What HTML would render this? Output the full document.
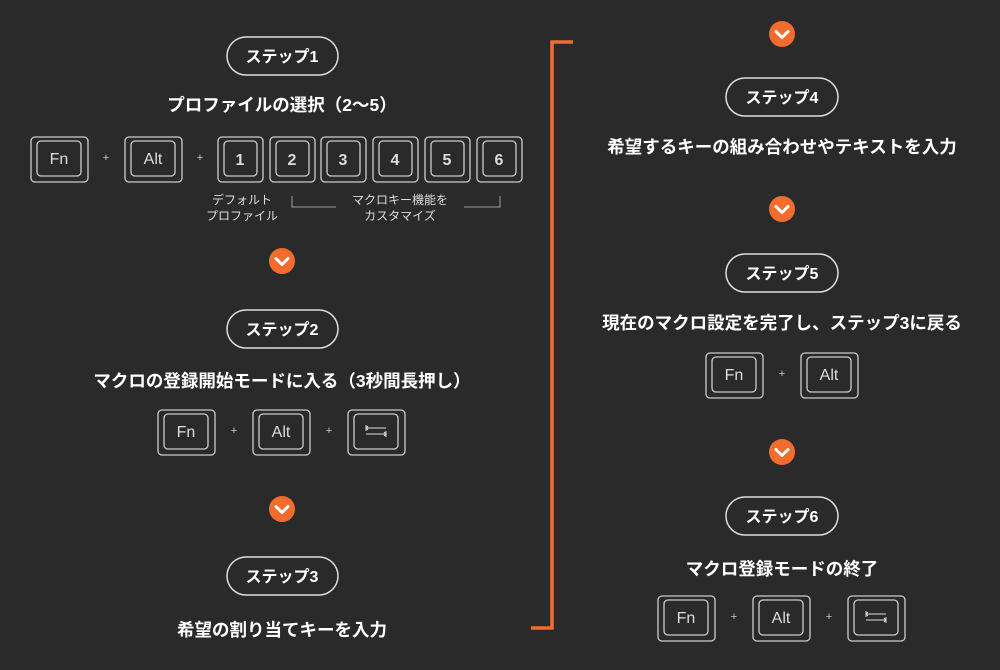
<!DOCTYPE html>
<html><head><meta charset="utf-8"><style>
html,body{margin:0;padding:0;background:#2a2a2a;}
svg{display:block;}
text{font-family:"Liberation Sans","Noto Sans CJK JP",sans-serif;fill:#fff;}
.t{font-size:17.5px;font-weight:bold;text-anchor:middle;}
.p{font-size:16px;font-weight:bold;text-anchor:middle;}
.k{font-size:16px;text-anchor:middle;fill:#ddd;}
.s{font-size:12px;text-anchor:middle;fill:#ddd;}
.pl{font-size:11px;text-anchor:middle;fill:#ccc;}
</style></head><body>
<svg width="1000" height="670" viewBox="0 0 1000 670" xmlns="http://www.w3.org/2000/svg">
<defs>
<g id="chev"><circle r="13" fill="#f26c2e"/><path d="M-6,-2.5 L0,3.5 L6,-2.5" fill="none" stroke="#fff" stroke-width="3" stroke-linecap="round" stroke-linejoin="round"/></g>
<g id="tab"><path d="M-10,-3 H10 M-10,-6 V0 M-10,-3 L-8,-5 M-10,-3 L-8,-1 M-10,3 H10 M10,0 V6 M10,3 L8,1 M10,3 L8,5" stroke="#ddd" stroke-width="1" fill="none"/></g>
</defs>
<rect width="1000" height="670" fill="#2a2a2a"/>
<path d="M573,42 H552 V628 H531" fill="none" stroke="#f26c2e" stroke-width="3.5"/>

<g fill="none" stroke="#ddd" stroke-width="1.5">
<rect x="227" y="37" width="111" height="38" rx="19"/>
<rect x="227" y="310" width="111" height="38" rx="19"/>
<rect x="227" y="557" width="111" height="38" rx="19"/>
<rect x="726" y="78" width="112" height="38" rx="19"/>
<rect x="726" y="254" width="112" height="38" rx="19"/>
<rect x="726" y="497" width="112" height="38" rx="19"/>
</g>
<text class="p" x="282" y="62">ステップ1</text>
<text class="p" x="282" y="335">ステップ2</text>
<text class="p" x="282" y="582">ステップ3</text>
<text class="p" x="782" y="103">ステップ4</text>
<text class="p" x="782" y="279">ステップ5</text>
<text class="p" x="782" y="522">ステップ6</text>

<text class="t" x="282" y="111">プロファイルの選択（2〜5）</text>
<text class="t" x="282" y="387">マクロの登録開始モードに入る（3秒間長押し）</text>
<text class="t" x="282" y="636">希望の割り当てキーを入力</text>
<text class="t" x="782" y="153">希望するキーの組み合わせやテキストを入力</text>
<text class="t" x="782" y="329">現在のマクロ設定を完了し、ステップ3に戻る</text>
<text class="t" x="782" y="575">マクロ登録モードの終了</text>

<use href="#chev" x="282" y="261"/>
<use href="#chev" x="282" y="509"/>
<use href="#chev" x="782" y="34"/>
<use href="#chev" x="782" y="209"/>
<use href="#chev" x="782" y="452"/>

<g fill="none" stroke="#ccc" stroke-width="1.3">
<rect x="31" y="137" width="57" height="45" rx="4"/><rect x="37" y="141" width="44" height="35" rx="4"/>
<rect x="125" y="137" width="57" height="45" rx="4"/><rect x="131" y="141" width="44" height="35" rx="4"/>
<rect x="218" y="137" width="45" height="45" rx="4"/><rect x="224" y="141" width="33" height="35" rx="4"/>
<rect x="270" y="137" width="45" height="45" rx="4"/><rect x="276" y="141" width="33" height="35" rx="4"/>
<rect x="321" y="137" width="45" height="45" rx="4"/><rect x="327" y="141" width="33" height="35" rx="4"/>
<rect x="373" y="137" width="45" height="45" rx="4"/><rect x="379" y="141" width="33" height="35" rx="4"/>
<rect x="425" y="137" width="45" height="45" rx="4"/><rect x="431" y="141" width="33" height="35" rx="4"/>
<rect x="477" y="137" width="45" height="45" rx="4"/><rect x="483" y="141" width="33" height="35" rx="4"/>
<rect x="158" y="410" width="57" height="45" rx="4"/><rect x="164" y="414" width="44" height="35" rx="4"/>
<rect x="253" y="410" width="57" height="45" rx="4"/><rect x="259" y="414" width="44" height="35" rx="4"/>
<rect x="348" y="410" width="57" height="45" rx="4"/><rect x="354" y="414" width="44" height="35" rx="4"/>
<rect x="706" y="353" width="57" height="45" rx="4"/><rect x="712" y="357" width="44" height="35" rx="4"/>
<rect x="801" y="353" width="57" height="45" rx="4"/><rect x="807" y="357" width="44" height="35" rx="4"/>
<rect x="658" y="596" width="57" height="45" rx="4"/><rect x="664" y="600" width="44" height="35" rx="4"/>
<rect x="753" y="596" width="57" height="45" rx="4"/><rect x="759" y="600" width="44" height="35" rx="4"/>
<rect x="848" y="596" width="57" height="45" rx="4"/><rect x="854" y="600" width="44" height="35" rx="4"/>
<path d="M292,196 V207 H336 M464,207 H500 V196" stroke="#999" stroke-width="1"/>
</g>
<text class="k" x="59" y="164">Fn</text><text class="k" x="153" y="164">Alt</text>
<text class="k" x="240" y="165" style="font-weight:bold">1</text>
<text class="k" x="292" y="165" style="font-weight:bold">2</text>
<text class="k" x="343" y="165" style="font-weight:bold">3</text>
<text class="k" x="395" y="165" style="font-weight:bold">4</text>
<text class="k" x="447" y="165" style="font-weight:bold">5</text>
<text class="k" x="499" y="165" style="font-weight:bold">6</text>
<text class="pl" x="106" y="161">+</text><text class="pl" x="200" y="161">+</text>
<text class="s" x="242" y="204">デフォルト</text>
<text class="s" x="242" y="220">プロファイル</text>
<text class="s" x="400" y="204">マクロキー機能を</text>
<text class="s" x="400" y="220">カスタマイズ</text>

<text class="k" x="186" y="437">Fn</text><text class="k" x="281" y="437">Alt</text>
<text class="pl" x="234" y="434">+</text><text class="pl" x="329" y="434">+</text>
<use href="#tab" x="376" y="431"/>

<text class="k" x="734" y="380">Fn</text><text class="k" x="829" y="380">Alt</text>
<text class="pl" x="782" y="377">+</text>

<text class="k" x="686" y="623">Fn</text><text class="k" x="781" y="623">Alt</text>
<text class="pl" x="734" y="620">+</text><text class="pl" x="829" y="620">+</text>
<use href="#tab" x="876" y="617"/>
</svg>
</body></html>
